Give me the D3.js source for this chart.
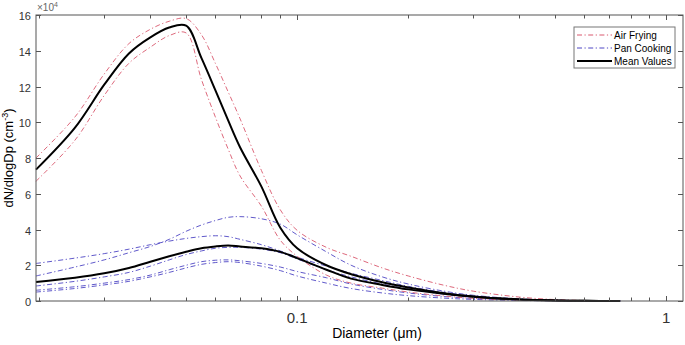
<!DOCTYPE html>
<html>
<head>
<meta charset="utf-8">
<script src="https://cdn.jsdelivr.net/npm/d3@7"></script>
<style>
  body { margin: 0; background: #fff; }
  svg { display: block; font-family: "Liberation Sans", Arial, sans-serif; }
</style>
</head>
<body>
<div id="chart"></div>
<script>
// diameters in um
const diameters = [0.0196, 0.025, 0.03, 0.035, 0.04, 0.045, 0.05, 0.055, 0.06, 0.065, 0.07, 0.08, 0.09,
                   0.1, 0.12, 0.14, 0.17, 0.2, 0.25, 0.3, 0.4, 0.5, 0.6, 0.75];

// dN/dlogDp in units of 10^4 cm^-3
const airFrying1 = [8.0, 10.3, 12.7, 14.4, 15.2, 15.65, 15.8, 14.9, 13.3, 11.7, 10.2, 7.3, 5.1,
                    3.95, 3.0, 2.5, 1.85, 1.4, 0.88, 0.55, 0.22, 0.08, 0.03, 0.01];
const airFrying2 = [6.7, 9.0, 11.5, 13.3, 14.2, 14.85, 15.0, 12.4, 10.3, 8.5, 7.0, 5.3, 3.4,
                    2.5, 1.45, 1.0, 0.72, 0.5, 0.28, 0.15, 0.05, 0.02, 0.01, 0];
const airFryingMean = [7.35, 9.7, 12.1, 13.85, 14.75, 15.3, 15.4, 13.6, 11.8, 10.1, 8.6, 6.4, 4.1,
                       2.95, 2.0, 1.5, 1.05, 0.76, 0.44, 0.25, 0.08, 0.03, 0.01, 0];

const panCooking = [
  [1.4, 1.9, 2.3, 2.7, 3.05, 3.45, 3.9, 4.25, 4.5, 4.68, 4.72, 4.6, 4.3,
   3.7, 2.75, 2.0, 1.35, 0.95, 0.55, 0.32, 0.12, 0.05, 0.02, 0.01],
  [2.1, 2.4, 2.65, 2.9, 3.15, 3.35, 3.5, 3.6, 3.65, 3.6, 3.45, 3.15, 2.8,
   2.45, 1.95, 1.55, 1.15, 0.82, 0.48, 0.28, 0.1, 0.04, 0.02, 0.01],
  [0.84, 1.1, 1.35, 1.6, 1.95, 2.3, 2.6, 2.8, 2.95, 3.0, 3.0, 2.9, 2.7,
   2.35, 1.75, 1.35, 0.95, 0.68, 0.38, 0.22, 0.08, 0.03, 0.01, 0],
  [0.6, 0.8, 1.0, 1.2, 1.45, 1.75, 2.0, 2.2, 2.28, 2.3, 2.25, 2.1, 1.9,
   1.65, 1.3, 0.95, 0.65, 0.45, 0.25, 0.15, 0.05, 0.02, 0.01, 0],
  [0.5, 0.7, 0.9, 1.1, 1.35, 1.6, 1.85, 2.05, 2.15, 2.2, 2.15, 1.95, 1.7,
   1.4, 1.0, 0.7, 0.45, 0.3, 0.16, 0.09, 0.03, 0.01, 0, 0]
];
const panCookingMean = [1.06, 1.3, 1.55, 1.85, 2.2, 2.5, 2.75, 2.95, 3.05, 3.1, 3.05, 2.95, 2.75,
                        2.4, 1.75, 1.25, 0.9, 0.65, 0.4, 0.24, 0.09, 0.03, 0.01, 0];

const yTicks = [0, 2, 4, 6, 8, 10, 12, 14, 16];
const xMajor = [0.1, 1];
const xMinor = [0.02, 0.03, 0.04, 0.05, 0.06, 0.07, 0.08, 0.09, 0.2, 0.3, 0.4, 0.5, 0.6, 0.7, 0.8, 0.9];
const legendItems = [
  { label: 'Air Frying', color: '#d9596e', dash: '5,2.5,1.2,2.5', width: 1 },
  { label: 'Pan Cooking', color: '#4f47c4', dash: '5,2.5,1.2,2.5', width: 1 },
  { label: 'Mean Values', color: '#000', dash: null, width: 2 }
];

const W = 685, H = 345;
const m = { left: 36, right: 2, top: 15, bottom: 44 };
const svg = d3.select('#chart').append('svg').attr('width', W).attr('height', H);

const x = d3.scaleLog().domain([0.0196, 1.11]).range([m.left, W - m.right]);
const y = d3.scaleLinear().domain([0, 16]).range([H - m.bottom, m.top]);

const line = d3.line()
  .x((d, i) => x(diameters[i]))
  .y(d => y(d))
  .curve(d3.curveCatmullRom.alpha(0.5));

const plot = svg.append('g');
const axisColor = '#555';
const textColor = '#333';

function drawSeries(vals, color, dash, width, opacity) {
  plot.append('path')
    .attr('d', line(vals))
    .attr('fill', 'none')
    .attr('stroke', color)
    .attr('stroke-width', width)
    .attr('stroke-opacity', opacity)
    .attr('stroke-dasharray', dash);
}

panCooking.forEach(s => drawSeries(s, legendItems[1].color, legendItems[1].dash, 1, 0.9));
drawSeries(airFrying1, legendItems[0].color, legendItems[0].dash, 1, 0.9);
drawSeries(airFrying2, legendItems[0].color, legendItems[0].dash, 1, 0.9);
drawSeries(airFryingMean, '#000', null, 2, 1);
drawSeries(panCookingMean, '#000', null, 2, 1);

// box
const x0 = m.left, x1 = W - m.right, y0 = m.top, y1 = H - m.bottom;
svg.append('rect')
  .attr('x', x0).attr('y', y0).attr('width', x1 - x0).attr('height', y1 - y0)
  .attr('fill', 'none').attr('stroke', axisColor).attr('stroke-width', 1);

// y ticks both sides
yTicks.forEach(t => {
  const yy = Math.round(y(t)) + 0.5;
  svg.append('line').attr('x1', x0).attr('x2', x0 + 5).attr('y1', yy).attr('y2', yy).attr('stroke', axisColor);
  svg.append('line').attr('x1', x1).attr('x2', x1 - 5).attr('y1', yy).attr('y2', yy).attr('stroke', axisColor);
  svg.append('text').attr('x', x0 - 5).attr('y', yy + 4)
    .attr('text-anchor', 'end').attr('font-size', 11).attr('fill', textColor).text(t);
});

// x ticks top and bottom
xMinor.concat(xMajor).forEach(t => {
  const xx = Math.round(x(t)) + 0.5;
  const len = xMajor.includes(t) ? 5 : 3.5;
  svg.append('line').attr('x1', xx).attr('x2', xx).attr('y1', y1).attr('y2', y1 - len).attr('stroke', axisColor);
  svg.append('line').attr('x1', xx).attr('x2', xx).attr('y1', y0).attr('y2', y0 + len).attr('stroke', axisColor);
});
xMajor.forEach(t => {
  svg.append('text').attr('x', x(t)).attr('y', y1 + 22)
    .attr('text-anchor', 'middle').attr('font-size', 15).attr('fill', textColor).text(t);
});

// exponent label
const ex = svg.append('text').attr('x', x0 + 1).attr('y', y0 - 4)
  .attr('font-size', 10).attr('fill', '#666');
ex.append('tspan').text('\u00d710');
ex.append('tspan').attr('dy', -4).attr('font-size', 7).text('4');

// axis titles
svg.append('text').attr('x', 377).attr('y', y1 + 37)
  .attr('text-anchor', 'middle').attr('font-size', 14).attr('fill', '#000')
  .text('Diameter (\u03bcm)');

const yl = svg.append('text')
  .attr('transform', `translate(13,${(y0 + y1) / 2}) rotate(-90)`)
  .attr('text-anchor', 'middle').attr('font-size', 13).attr('fill', '#000');
yl.append('tspan').text('dN/dlogDp (cm');
yl.append('tspan').attr('dy', -5).attr('font-size', 9).text('-3');
yl.append('tspan').attr('dy', 5).text(')');

// legend
const lg = svg.append('g').attr('transform', 'translate(574,27)');
lg.append('rect').attr('width', 101).attr('height', 41)
  .attr('fill', '#fff').attr('stroke', '#777');
legendItems.forEach((it, i) => {
  const ly = 8 + i * 13;
  lg.append('line').attr('x1', 3).attr('x2', 38).attr('y1', ly).attr('y2', ly)
    .attr('stroke', it.color).attr('stroke-width', it.width)
    .attr('stroke-dasharray', it.dash);
  lg.append('text').attr('x', 40).attr('y', ly + 3.5)
    .attr('font-size', 10).attr('fill', '#000').text(it.label);
});
</script>
</body>
</html>
